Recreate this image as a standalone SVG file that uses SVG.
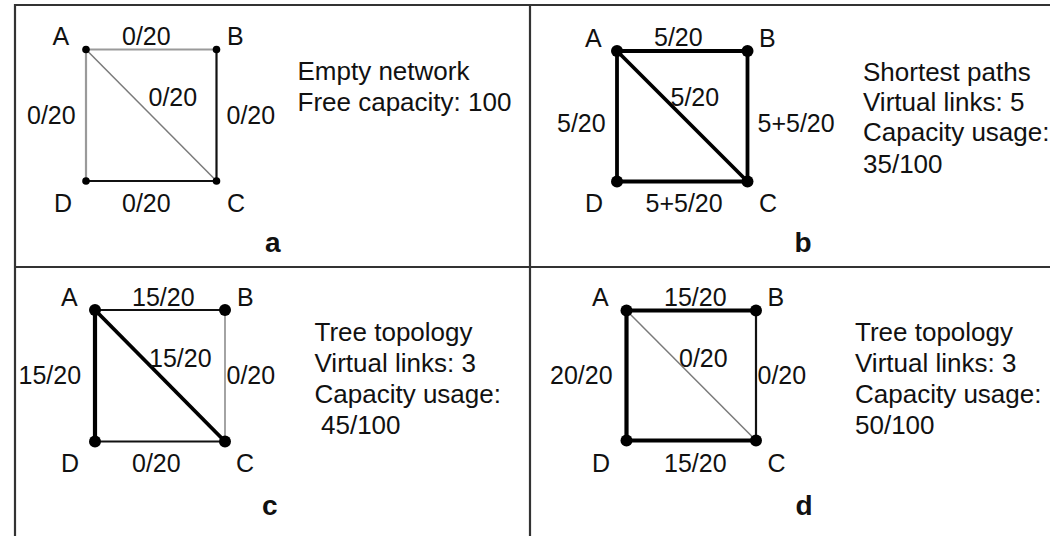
<svg xmlns="http://www.w3.org/2000/svg" width="1050" height="536" viewBox="0 0 1050 536">
<style>
text{font-family:"Liberation Sans",Arial,sans-serif;font-size:25px;fill:#111}
.cap{font-size:26px}
.lbl{font-weight:bold;font-size:28px}
.frame{stroke:#333;stroke-width:2.2;fill:none}
.g{stroke:#9a9a9a;stroke-width:2.2}
.gd{stroke:#7a7a7a;stroke-width:1.5}
.k{stroke:#111;stroke-width:2.2}
.t{stroke:#000;stroke-width:3.8}
.dot{fill:#000}
</style>
<rect width="1050" height="536" fill="#fff"/>
<g id="frame">
<line class="frame" x1="15" y1="5" x2="1052" y2="5"/>
<line class="frame" x1="15" y1="4" x2="15" y2="540"/>
<line class="frame" x1="530" y1="5" x2="530" y2="540"/>
<line class="frame" x1="15" y1="267" x2="1052" y2="267"/>
</g>
<g id="connectors">
<line class="g" x1="86" y1="49.5" x2="216.5" y2="49.5"/>
<line class="g" x1="86" y1="49.5" x2="86" y2="181"/>
<line class="gd" x1="86" y1="49.5" x2="216.5" y2="181"/>
<line class="k" x1="216.5" y1="49.5" x2="216.5" y2="181"/>
<line class="k" x1="86" y1="181" x2="216.5" y2="181"/>
<line class="t" x1="617" y1="51" x2="747.5" y2="51"/>
<line class="t" x1="617" y1="51" x2="617" y2="181.5"/>
<line class="t" x1="617" y1="51" x2="747.5" y2="181.5"/>
<line class="t" x1="747.5" y1="51" x2="747.5" y2="181.5"/>
<line class="t" x1="617" y1="181.5" x2="747.5" y2="181.5"/>
<line class="k" x1="95" y1="310" x2="225" y2="310"/>
<line class="t" x1="95" y1="310" x2="95" y2="441.5" style="stroke-width:4.2"/>
<line class="t" x1="95" y1="310" x2="225" y2="441.5"/>
<line class="g" x1="225" y1="310" x2="225" y2="441.5" style="stroke-width:1.8"/>
<line class="k" x1="95" y1="441.5" x2="225" y2="441.5"/>
<line class="t" x1="626.5" y1="310.5" x2="756" y2="310.5"/>
<line class="t" x1="626.5" y1="310.5" x2="626.5" y2="440.5" style="stroke-width:4.2"/>
<line class="gd" x1="626.5" y1="310.5" x2="756" y2="440.5"/>
<line class="k" x1="756" y1="310.5" x2="756" y2="440.5"/>
<line class="t" x1="626.5" y1="440.5" x2="756" y2="440.5"/>
</g>
<g id="edge-labels">
<text x="122" y="45">0/20</text>
<text x="148.5" y="106">0/20</text>
<text x="27" y="124">0/20</text>
<text x="226.5" y="124">0/20</text>
<text x="122" y="212">0/20</text>
<text x="654" y="46">5/20</text>
<text x="670.5" y="106">5/20</text>
<text x="557" y="131.5">5/20</text>
<text x="757.5" y="131.5">5+5/20</text>
<text x="645.5" y="212">5+5/20</text>
<text x="132" y="306">15/20</text>
<text x="149" y="367">15/20</text>
<text x="18.5" y="384">15/20</text>
<text x="226.5" y="384">0/20</text>
<text x="132" y="472">0/20</text>
<text x="664" y="306">15/20</text>
<text x="679" y="367">0/20</text>
<text x="550" y="384">20/20</text>
<text x="757.5" y="384">0/20</text>
<text x="664" y="472">15/20</text>
</g>
<g id="a-A"><circle class="dot" cx="86" cy="49.5" r="3.8"/><text x="52.5" y="45">A</text></g>
<g id="a-B"><circle class="dot" cx="216.5" cy="49.5" r="3.8"/><text x="227" y="45">B</text></g>
<g id="a-C"><circle class="dot" cx="216.5" cy="181" r="3.8"/><text x="227" y="212">C</text></g>
<g id="a-D"><circle class="dot" cx="86" cy="181" r="3.8"/><text x="54" y="212">D</text></g>
<g id="b-A"><circle class="dot" cx="617" cy="51" r="6"/><text x="585" y="46.5">A</text></g>
<g id="b-B"><circle class="dot" cx="747.5" cy="51" r="6"/><text x="759" y="46.5">B</text></g>
<g id="b-C"><circle class="dot" cx="747.5" cy="181.5" r="6"/><text x="759" y="212">C</text></g>
<g id="b-D"><circle class="dot" cx="617" cy="181.5" r="6"/><text x="585" y="212">D</text></g>
<g id="c-A"><circle class="dot" cx="95" cy="310" r="6"/><text x="61" y="306">A</text></g>
<g id="c-B"><circle class="dot" cx="225" cy="310" r="6"/><text x="237" y="306">B</text></g>
<g id="c-C"><circle class="dot" cx="225" cy="441.5" r="6"/><text x="236" y="472">C</text></g>
<g id="c-D"><circle class="dot" cx="95" cy="441.5" r="6"/><text x="61" y="472">D</text></g>
<g id="d-A"><circle class="dot" cx="626.5" cy="310.5" r="6"/><text x="592" y="306">A</text></g>
<g id="d-B"><circle class="dot" cx="756" cy="310.5" r="6"/><text x="767.5" y="306">B</text></g>
<g id="d-C"><circle class="dot" cx="756" cy="440.5" r="6"/><text x="767.5" y="472">C</text></g>
<g id="d-D"><circle class="dot" cx="626.5" cy="440.5" r="6"/><text x="592" y="472">D</text></g>
<g id="captions">
<text class="cap" x="297.5" y="79.5">Empty network</text>
<text class="cap" x="297.5" y="110.5">Free capacity: 100</text>
<text class="cap" x="863" y="81">Shortest paths</text>
<text class="cap" x="863" y="111">Virtual links: 5</text>
<text class="cap" x="863" y="141">Capacity usage:</text>
<text class="cap" x="863" y="173">35/100</text>
<text class="cap" x="314.5" y="341">Tree topology</text>
<text class="cap" x="314.5" y="372">Virtual links: 3</text>
<text class="cap" x="314.5" y="403">Capacity usage:</text>
<text class="cap" x="321" y="434">45/100</text>
<text class="cap" x="855" y="341">Tree topology</text>
<text class="cap" x="855" y="372">Virtual links: 3</text>
<text class="cap" x="855" y="403">Capacity usage:</text>
<text class="cap" x="855" y="434">50/100</text>
<text class="lbl" x="265" y="252">a</text>
<text class="lbl" x="794.5" y="252">b</text>
<text class="lbl" x="262" y="514.5">c</text>
<text class="lbl" x="795.5" y="514.5">d</text>
</g>
</svg>
